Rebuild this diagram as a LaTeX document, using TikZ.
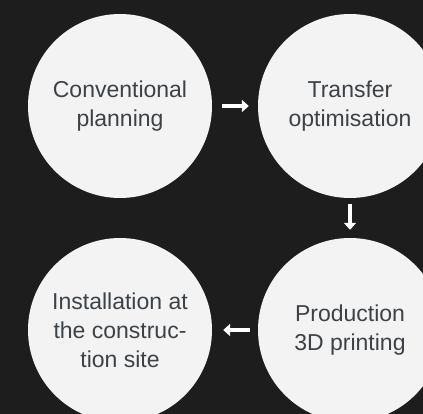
\documentclass[tikz,border=0pt]{standalone}
\usepackage{fontspec}
\setmainfont{Liberation Sans}
\usetikzlibrary{arrows.meta}
\definecolor{bgdark}{HTML}{1D1D1D}
\definecolor{circfill}{HTML}{F3F3F3}
\definecolor{txtgray}{HTML}{3D4247}
\begin{document}
\begin{tikzpicture}[x=1pt,y=-1pt,
  stage/.style={circle,fill=circfill,minimum size=184pt,inner sep=0pt,
    align=center,text=txtgray,font=\fontsize{23}{29}\selectfont},
  flow/.style={white,line width=3.5pt,-{Triangle[length=7pt,width=12pt]}}]
\fill[bgdark] (0,0) rectangle (423,414);
\useasboundingbox (0,0) rectangle (423,414);
\begin{scope}
\clip (0,0) rectangle (423,414);
\node[stage] (c1) at (120,106) {Conventional\\planning};
\node[stage] (c2) at (350,106) {Transfer\\optimisation};
\node[stage] (c4) at (350,330) {Production\\3D printing};
\node[stage] (c3) at (120,330) {Installation at\\the construc-\\tion site};
\end{scope}
\draw[flow,shorten <=10pt,shorten >=9pt] (c1) -- (c2);
\draw[flow,shorten <=6pt,shorten >=8pt] (c2) -- (c4);
\draw[flow,shorten <=8pt,shorten >=11pt] (c4) -- (c3);
\end{tikzpicture}
\end{document}
